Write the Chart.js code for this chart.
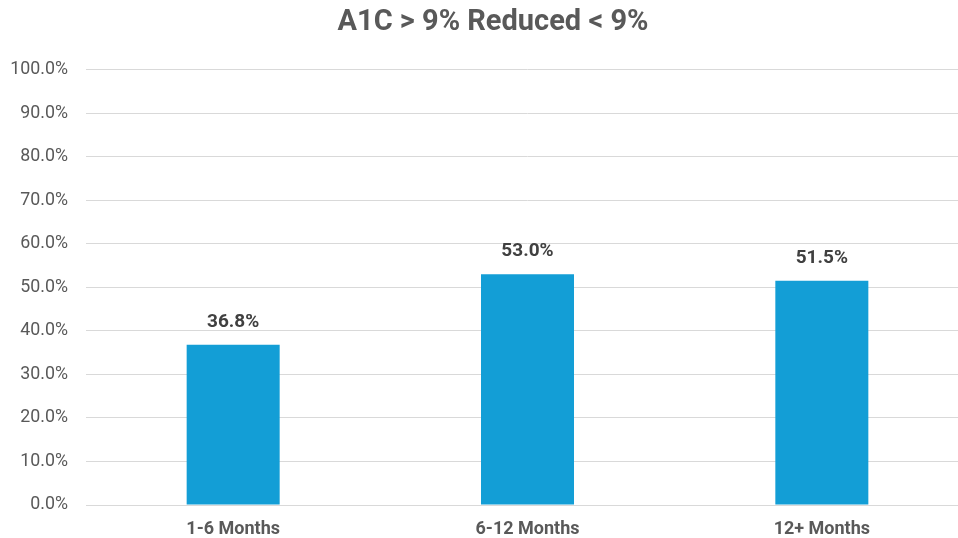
<!DOCTYPE html>
<html>
<head>
<meta charset="utf-8">
<script src="https://cdn.jsdelivr.net/npm/chart.js@4"></script>
<style>
html,body{margin:0;padding:0;background:#fff;overflow:hidden;}
#wrap{width:958px;height:538px;position:relative;overflow:hidden;}
</style>
</head>
<body>
<div id="wrap"><canvas id="c" width="969" height="538"></canvas></div>
<script>
const categories = ["1-6 Months", "6-12 Months", "12+ Months"];
const values = [36.8, 53.0, 51.5];
const titleText = "A1C > 9% Reduced < 9%";

const dataLabels = {
  id: 'dataLabels',
  afterDatasetsDraw(chart) {
    const ctx = chart.ctx;
    const meta = chart.getDatasetMeta(0);
    ctx.save();
    ctx.font = 'bold 19px Roboto';
    ctx.fillStyle = '#404040';
    ctx.textAlign = 'center';
    ctx.textBaseline = 'middle';
    meta.data.forEach((bar, i) => {
      ctx.fillText(values[i].toFixed(1) + '%', bar.x, bar.y - 23);
    });
    ctx.restore();
  }
};

const titleDraw = {
  id: 'titleDraw',
  afterDraw(chart) {
    const ctx = chart.ctx;
    const tb = chart.titleBlock;
    ctx.save();
    ctx.font = 'bold 29px Roboto';
    ctx.fillStyle = '#595959';
    ctx.textAlign = 'center';
    ctx.textBaseline = 'middle';
    ctx.fillText(titleText, 493, tb.top + 5 + 17.4);
    ctx.restore();
  }
};

new Chart(document.getElementById('c'), {
  type: 'bar',
  data: {
    labels: categories,
    datasets: [{
      data: values,
      backgroundColor: '#139ed6',
      barPercentage: 0.316,
      categoryPercentage: 1.0
    }]
  },
  options: {
    responsive: false,
    animation: false,
    layout: { padding: 0 },
    plugins: {
      legend: { display: false },
      tooltip: { enabled: false },
      title: {
        display: true,
        text: titleText,
        color: 'rgba(0,0,0,0)',
        font: { family: 'Roboto', size: 29, weight: 'bold' },
        padding: { top: 5, bottom: 30 }
      }
    },
    scales: {
      x: {
        grid: { display: false, drawTicks: false },
        border: { display: true, color: '#d9d9d9', width: 1 },
        ticks: {
          color: '#595959',
          font: { family: 'Roboto', size: 18, weight: 'bold' },
          padding: 14
        },
        afterFit(scale) { scale.height = 33; }
      },
      y: {
        min: 0, max: 100,
        grid: { color: '#d9d9d9', drawTicks: false, lineWidth: 1 },
        border: { display: false },
        ticks: {
          stepSize: 10,
          color: '#595959',
          font: { family: 'Roboto', size: 17.8 },
          padding: 18,
          callback: v => v.toFixed(1) + '%'
        },
        afterFit(scale) { scale.width = 86; }
      }
    }
  },
  plugins: [dataLabels, titleDraw]
});
</script>
</body>
</html>
